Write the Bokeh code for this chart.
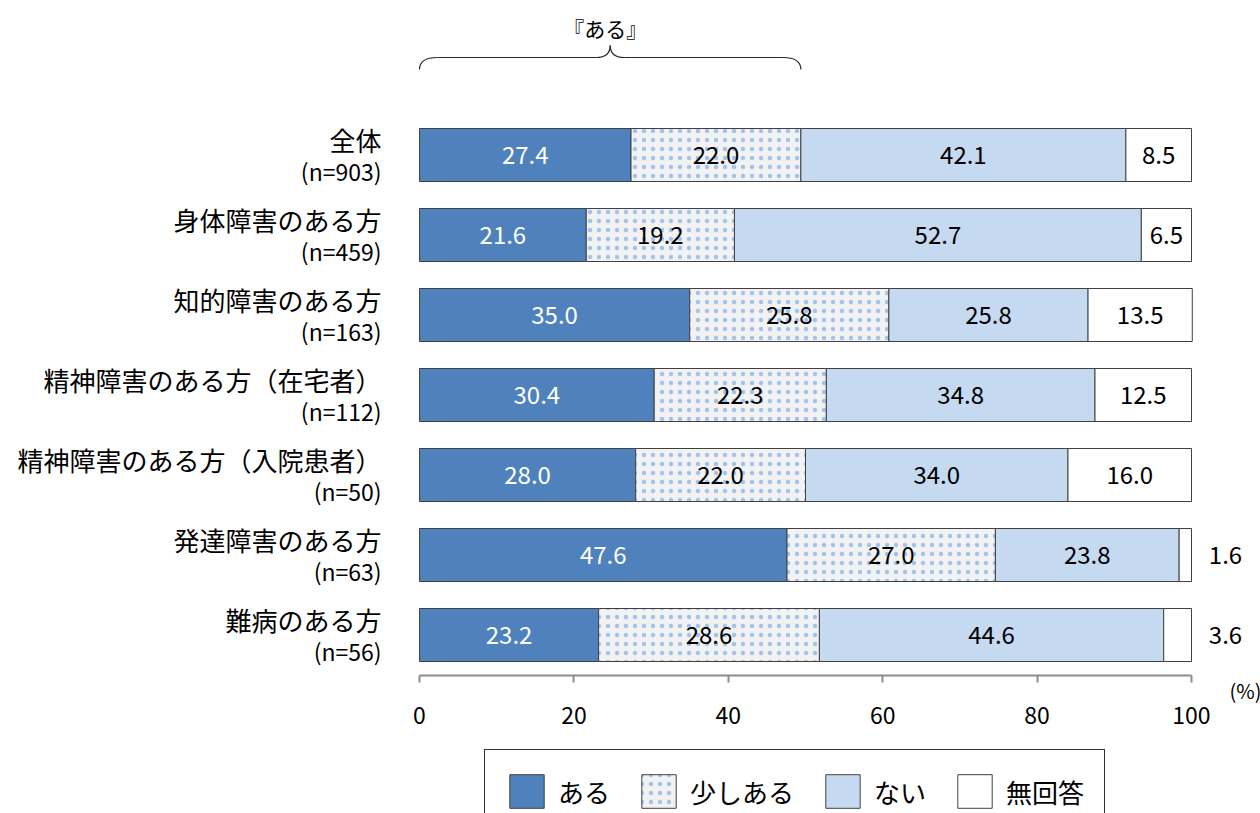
import numpy as np
from bokeh.plotting import figure
from bokeh.models import ColumnDataSource, Range1d, FixedTicker
from bokeh.core.properties import value
from bokeh.embed import file_html
from bokeh.resources import INLINE

# ---------------- data ----------------
categories = ["全体", "身体障害のある方", "知的障害のある方", "精神障害のある方（在宅者）",
              "精神障害のある方（入院患者）", "発達障害のある方", "難病のある方"]
sample_sizes = ["(n=903)", "(n=459)", "(n=163)", "(n=112)", "(n=50)", "(n=63)", "(n=56)"]
series = ["ある", "少しある", "ない", "無回答"]
aru = [27.4, 21.6, 35.0, 30.4, 28.0, 47.6, 23.2]
sukoshi_aru = [22.0, 19.2, 25.8, 22.3, 22.0, 27.0, 28.6]
nai = [42.1, 52.7, 25.8, 34.8, 34.0, 23.8, 44.6]
mukaito = [8.5, 6.5, 13.5, 12.5, 16.0, 1.6, 3.6]
x_ticks = [0, 20, 40, 60, 80, 100]
bracket_label = "『ある』"
unit_label = "(%)"

# ---------------- styling ----------------
JP = "Noto Sans CJK JP"
colors = ["#4f81bd", "#f2f2f2", "#c5d9f1", "#ffffff"]
text_colors = ["white", "black", "black", "black"]
W, H = 1260, 813
X0 = 419      # screen x of 0 %
Y0 = 154.5    # screen y of first row centre
PX_X = 7.72   # px per % unit
PX_Y = 80.0   # px per row


def sy(py):
    """screen y (from top) -> data y"""
    return (py - Y0) / PX_Y


def sx(px):
    return (px - X0) / PX_X


p = figure(width=W, height=H, output_backend="svg", toolbar_location=None,
           x_range=Range1d(sx(0), sx(W)), y_range=Range1d(sy(H), sy(0)),
           min_border_left=0, min_border_right=0, min_border_top=0, min_border_bottom=0,
           y_axis_location=None)
p.xgrid.visible = False
p.ygrid.visible = False
p.outline_line_color = None
p.background_fill_color = "white"
p.border_fill_color = "white"

n = len(categories)
ys = list(range(n))
cum = np.zeros(n)
for i, (name, vals) in enumerate(zip(series, [aru, sukoshi_aru, nai, mukaito])):
    vals = np.array(vals)
    left = cum.copy()
    right = cum + vals
    src = ColumnDataSource(dict(y=ys, left=left, right=right))
    kw = {}
    if name == "少しある":
        kw = dict(hatch_pattern="dot", hatch_color="#a4c3ea", hatch_scale=9, hatch_weight=0.8)
    p.hbar(y="y", left="left", right="right", height=53 / PX_Y, fill_color=colors[i],
           line_color="#404040", line_width=1, source=src, legend_label=name, **kw)
    # value labels (small shares are written outside the bar)
    xs = np.where(vals < 5, 100 + 4.4, (left + right) / 2)
    lsrc = ColumnDataSource(dict(x=xs, y=ys, t=[f"{v:.1f}" for v in vals]))
    p.text(x="x", y="y", text="t", source=lsrc, text_align="center", text_baseline="middle",
           text_font=value(JP), text_font_size="24px", text_color=text_colors[i])
    cum = right

# category labels
csrc = ColumnDataSource(dict(x=[sx(381)] * n, y1=[y - 15.5 / PX_Y for y in ys],
                             y2=[y + 15.5 / PX_Y for y in ys], c=categories, s=sample_sizes))
p.text(x="x", y="y1", text="c", source=csrc, text_align="right", text_baseline="middle",
       text_font=value(JP), text_font_size="26px", text_color="black")
p.text(x="x", y="y2", text="s", source=csrc, text_align="right", text_baseline="middle",
       text_font=value(JP), text_font_size="23px", text_color="black")

# brace over the "ある"+"少しある" total of 全体
total = aru[0] + sukoshi_aru[0]
mid = total / 2
y_end, y_mid, y_tip = sy(69), sy(57), sy(45)
e = 18 / PX_X
m = 14 / PX_X
qsrc = ColumnDataSource(dict(
    x0=[0, mid - m, mid, total - e],
    y0=[y_end, y_mid, y_tip, y_mid],
    cx=[0, mid, mid, total],
    cy=[y_mid, y_mid, y_mid, y_mid],
    x1=[e, mid, mid + m, total],
    y1=[y_mid, y_tip, y_mid, y_end]))
p.quadratic(x0="x0", y0="y0", x1="x1", y1="y1", cx="cx", cy="cy", source=qsrc,
            line_color="#262626", line_width=1.2)
p.segment(x0=[e, mid + m], y0=[y_mid, y_mid], x1=[mid - m, total - e], y1=[y_mid, y_mid],
          line_color="#262626", line_width=1.2)
p.text(x=[mid - 5 / PX_X], y=[sy(27)], text=[bracket_label], text_align="center",
       text_baseline="middle", text_font=value(JP), text_font_size="21px", text_color="black")

# x axis, drawn at a fixed place inside the frame
ax = p.xaxis[0]
ax.fixed_location = sy(675)
ax.ticker = FixedTicker(ticks=x_ticks)
ax.bounds = (0, 100)
ax.axis_line_color = "#8c8c8c"
ax.axis_line_width = 2
ax.major_tick_line_color = "#8c8c8c"
ax.major_tick_line_width = 2
ax.major_tick_out = 7
ax.major_tick_in = 0
ax.minor_tick_line_color = None
ax.major_label_text_font = JP
ax.major_label_text_font_size = "23px"
ax.major_label_text_color = "black"
ax.major_label_standoff = 24

p.text(x=[sx(1245)], y=[sy(690)], text=[unit_label], text_align="center", text_baseline="middle",
       text_font=value(JP), text_font_size="20px", text_color="black")

# legend
lg = p.legend[0]
lg.orientation = "horizontal"
lg.location = (484, -20)
lg.glyph_width = 43
lg.glyph_height = 42
lg.label_standoff = 10
lg.spacing = 27
lg.padding = 20
lg.margin = 0
lg.label_text_font = JP
lg.label_text_font_size = "26px"
lg.label_text_color = "black"
lg.border_line_color = "#303030"
lg.border_line_alpha = 1
lg.border_line_width = 1.5
lg.background_fill_color = "white"
lg.background_fill_alpha = 1

open("out.html", "w").write(file_html(p, INLINE))
